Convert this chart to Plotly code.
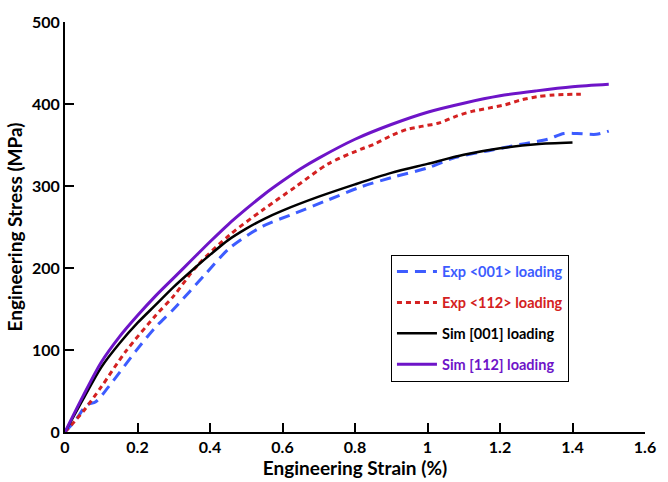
import plotly.graph_objects as go

# Experimental <001> loading
exp001_strain = [0, 0.03, 0.06, 0.085, 0.12, 0.194, 0.25, 0.3, 0.384, 0.456, 0.546, 0.636,
                 0.726, 0.817, 0.907, 1.0, 1.078, 1.169, 1.259, 1.331, 1.376, 1.412, 1.466, 1.5]
exp001_stress = [0, 15, 33, 37, 55, 98, 128, 150, 191, 225, 251, 267,
                 283, 299, 311, 322, 335, 343, 351, 357, 364, 364, 363, 367]

# Experimental <112> loading
exp112_strain = [0, 0.05, 0.1, 0.167, 0.25, 0.3, 0.365, 0.456, 0.546, 0.636, 0.726, 0.817,
                 0.853, 0.898, 0.943, 0.988, 1.033, 1.078, 1.123, 1.169, 1.214, 1.259,
                 1.304, 1.349, 1.423]
exp112_stress = [0, 25, 55, 98, 142, 166, 203, 241, 271, 299, 327, 345,
                 351, 361, 369, 373, 377, 385, 391, 395, 399, 405,
                 409, 411, 412]

# Simulated [001] loading
sim001_strain = [0, 0.05, 0.1, 0.15, 0.2, 0.25, 0.3, 0.35, 0.4, 0.45, 0.5, 0.55, 0.6,
                 0.7, 0.8, 0.9, 1.0, 1.1, 1.2, 1.3, 1.4]
sim001_stress = [0, 40, 79, 108, 133, 155, 177, 197, 216, 234, 248, 260, 270,
                 287, 302, 316, 327, 338, 346, 351, 353]

# Simulated [112] loading
sim112_strain = [0, 0.05, 0.1, 0.15, 0.2, 0.25, 0.3, 0.35, 0.4, 0.45, 0.5, 0.55, 0.6,
                 0.65, 0.7, 0.8, 0.9, 1.0, 1.1, 1.2, 1.3, 1.4, 1.5]
sim112_stress = [0, 44, 85, 116, 142, 166, 188, 210, 232, 253, 272, 290, 306,
                 321, 334, 357, 375, 390, 401, 410, 416, 421, 424]

x_ticks = [0, 0.2, 0.4, 0.6, 0.8, 1, 1.2, 1.4, 1.6]
x_tick_text = ["0", "0.2", "0.4", "0.6", "0.8", "1", "1.2", "1.4", "1.6"]
y_ticks = [0, 100, 200, 300, 400, 500]

BLUE = "#3d5cff"
RED = "#d42121"
BLACK = "#000000"
PURPLE = "#6e14c8"
FONT = "Lato"


def label(text, color):
    return f"<span style='color:{color}'>{text}</span>"


def curve(x, y, name, color, group, width, dash="solid"):
    return go.Scatter(x=x, y=y, mode="lines", name=name, legendgroup=group,
                      line=dict(color=color, width=width, dash=dash,
                                shape="spline", smoothing=0.8))


fig = go.Figure()
fig.add_trace(curve(exp001_strain, exp001_stress, label("Exp &lt;001&gt; loading", BLUE),
                    BLUE, "a", 3, "11px,7px"))
fig.add_trace(curve(exp112_strain, exp112_stress, label("Exp &lt;112&gt; loading", RED),
                    RED, "b", 3, "5px,4px"))
fig.add_trace(curve(sim001_strain, sim001_stress, label("Sim [001] loading", BLACK),
                    BLACK, "c", 2.5))
fig.add_trace(curve(sim112_strain, sim112_stress, label("Sim [112] loading", PURPLE),
                    PURPLE, "d", 3))

axis_common = dict(
    showgrid=False, zeroline=False, showline=True, linecolor="black", linewidth=2,
    ticks="inside", ticklen=9, tickwidth=2, tickcolor="black",
    tickfont=dict(family=FONT, size=16, color="black", weight="bold"),
)

fig.update_layout(
    width=668, height=482,
    margin=dict(l=65, r=12, t=18, b=45),
    plot_bgcolor="white", paper_bgcolor="white",
    font=dict(family=FONT, color="black"),
    xaxis=dict(range=[0, 1.6], tickvals=x_ticks, ticktext=x_tick_text,
               title=dict(text="<b>Engineering Strain (%)</b>", standoff=0,
                          font=dict(family=FONT, size=19, color="black")),
               **axis_common),
    yaxis=dict(range=[0, 500], tickvals=y_ticks,
               title=dict(text="<b>Engineering Stress (MPa)</b>", standoff=4,
                          font=dict(family=FONT, size=19, color="black")),
               **axis_common),
    legend=dict(x=0.562, y=0.4325, xanchor="left", yanchor="top",
                bgcolor="white", bordercolor="black", borderwidth=1,
                font=dict(family=FONT, size=14.5, weight="bold"),
                itemwidth=40,
                traceorder="grouped", tracegroupgap=9),
    showlegend=True,
)

fig.write_html("out.html")
